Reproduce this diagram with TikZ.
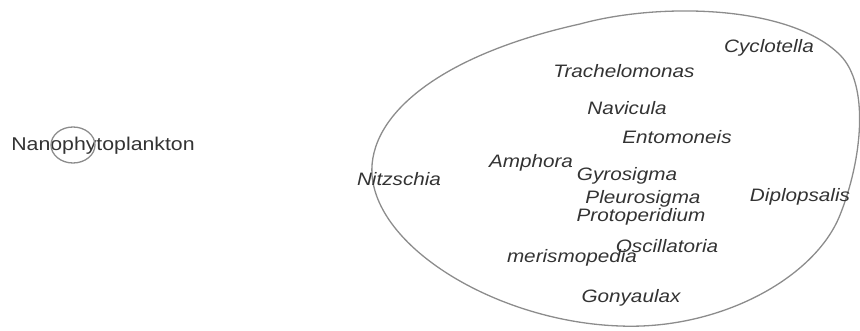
\documentclass[tikz,border=0pt]{standalone}
\usepackage{fontspec}
\setmainfont{Liberation Sans}
\newfontfamily\taxfont[FakeStretch=1.15]{Liberation Sans}
\usepackage{xcolor}
\usepackage{tikz}
\usetikzlibrary{positioning}

\definecolor{inkgray}{HTML}{333333}
\definecolor{linegray}{HTML}{8C8C8C}

\begin{document}
\begin{tikzpicture}[
      x=1pt, y=1pt,
      taxon/.style={inner sep=0pt, text=inkgray, font=\taxfont\itshape\fontsize{18}{20}\selectfont},
      group/.style={inner sep=0pt, text=inkgray, font=\taxfont\fontsize{18.5}{20}\selectfont},
      hull/.style={draw=linegray, line width=1.3pt}]
    \useasboundingbox (0,0) rectangle (860,-331);
    % small group
    \node[group] (nano) at (103,-146) {Nanophytoplankton};
    \draw[hull] (73,-145) ellipse (22 and 18);
    % large group
    \draw[hull] (372,-175) .. controls (368,-115) and (440,-55) .. (580,-24)
      .. controls (660,-2) and (790,-5) .. (840,-55)
      .. controls (870,-85) and (862,-160) .. (840,-215)
      .. controls (815,-278) and (720,-330) .. (620,-326)
      .. controls (500,-322) and (378,-250) .. cycle;
    \node[taxon] (cyc) at (769,-48) {Cyclotella};
    \node[taxon] (tra) at (624,-71) {Trachelomonas};
    \node[taxon] (nav) at (627,-108) {Navicula};
    \node[taxon] (ent) at (677,-137) {Entomoneis};
    \node[taxon] (amp) at (531,-163) {Amphora};
    \node[taxon] (gyr) at (627,-176) {Gyrosigma};
    \node[taxon] (nit) at (399,-179) {Nitzschia};
    \node[taxon] (ple) at (643,-199) {Pleurosigma};
    \node[taxon] (dip) at (800,-197) {Diplopsalis};
    \node[taxon] (pro) at (641,-217) {Protoperidium};
    \node[taxon] (osc) at (667,-246) {Oscillatoria};
    \node[taxon] (mer) at (572,-258) {merismopedia};
    \node[taxon] (gon) at (631,-298) {Gonyaulax};
  \end{tikzpicture}
\end{document}
